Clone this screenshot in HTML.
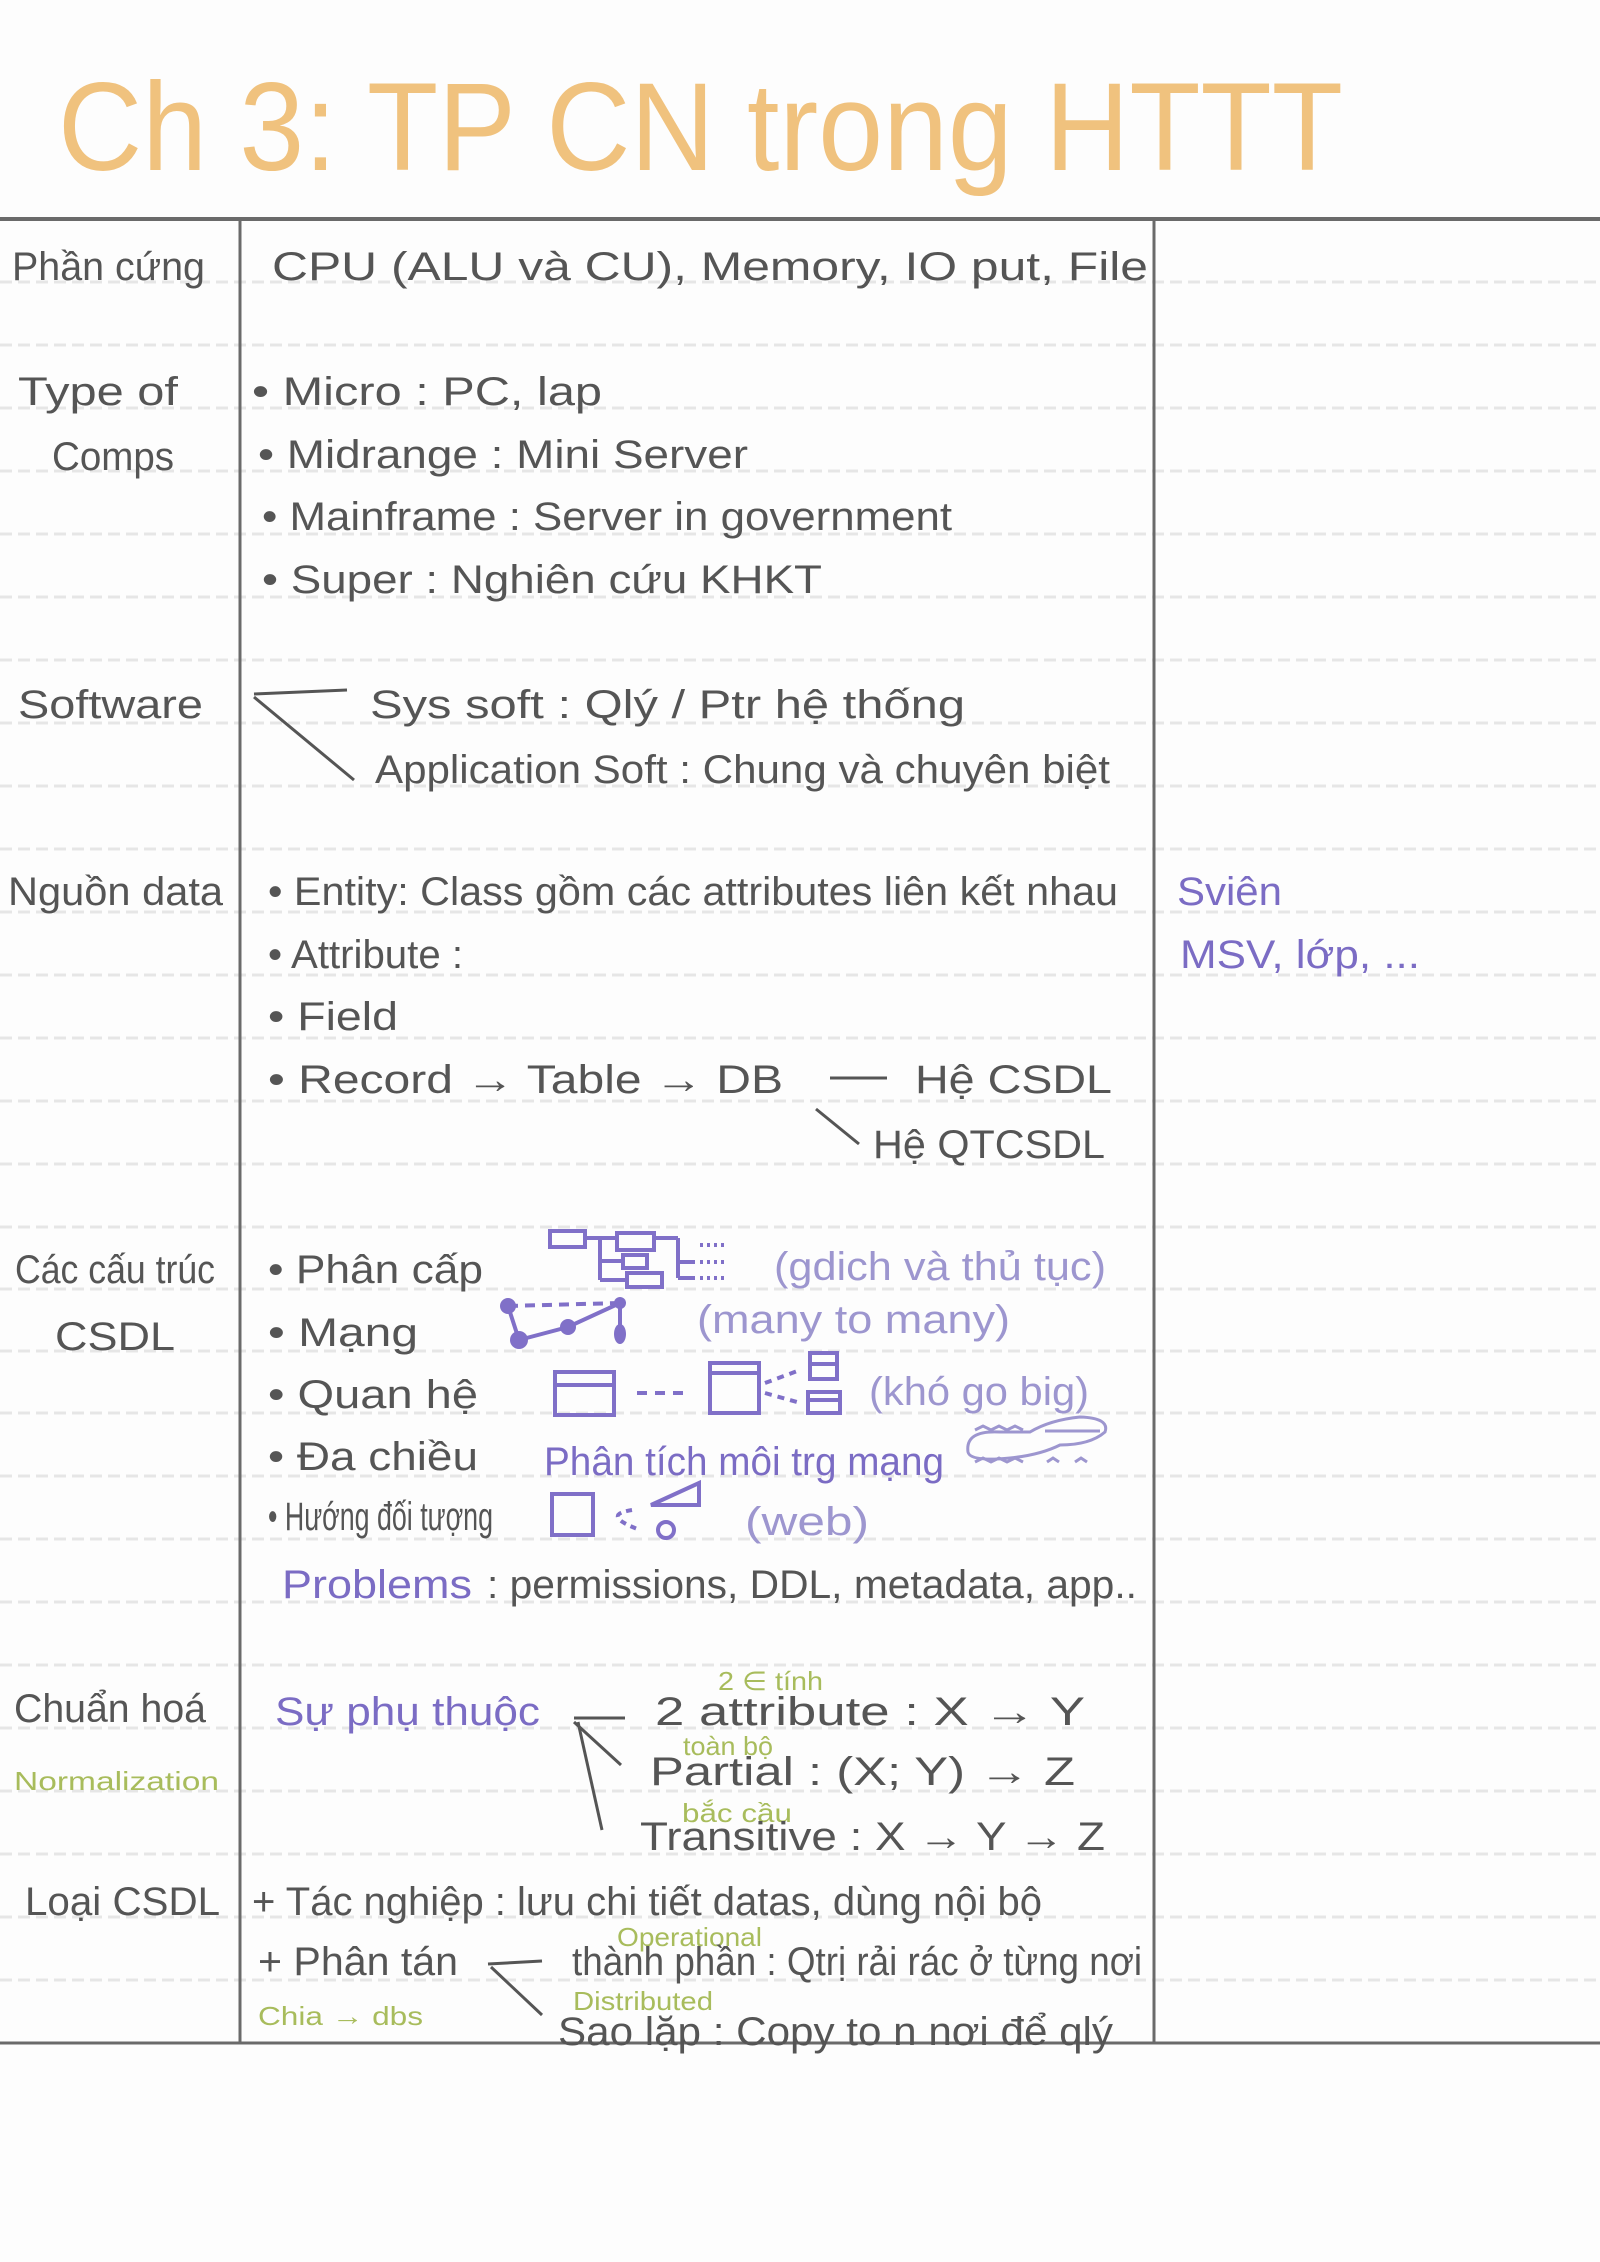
<!DOCTYPE html>
<html><head><meta charset="utf-8"><style>
html,body{margin:0;padding:0;background:#fdfdfd}
svg{display:block}
text{font-family:"Liberation Sans Narrow","Liberation Sans",sans-serif}
.g{fill:#555;font-size:40px}
.p{fill:#7b6cc4;font-size:40px}
.lp{fill:#9d96cf;font-size:40px}
.gr{fill:#a8bc5c;font-size:26px}
</style></head><body>
<svg width="1600" height="2262" viewBox="0 0 1600 2262" xmlns="http://www.w3.org/2000/svg">
<rect width="1600" height="2262" fill="#fdfdfd"/>
<g stroke="#e6e6e6" stroke-width="3" stroke-dasharray="12,6">
<line x1="0" y1="282" x2="1600" y2="282"/><line x1="0" y1="345" x2="1600" y2="345"/>
<line x1="0" y1="408" x2="1600" y2="408"/><line x1="0" y1="471" x2="1600" y2="471"/>
<line x1="0" y1="534" x2="1600" y2="534"/><line x1="0" y1="597" x2="1600" y2="597"/>
<line x1="0" y1="660" x2="1600" y2="660"/><line x1="0" y1="723" x2="1600" y2="723"/>
<line x1="0" y1="786" x2="1600" y2="786"/><line x1="0" y1="849" x2="1600" y2="849"/>
<line x1="0" y1="912" x2="1600" y2="912"/><line x1="0" y1="975" x2="1600" y2="975"/>
<line x1="0" y1="1038" x2="1600" y2="1038"/><line x1="0" y1="1101" x2="1600" y2="1101"/>
<line x1="0" y1="1164" x2="1600" y2="1164"/><line x1="0" y1="1227" x2="1600" y2="1227"/>
<line x1="0" y1="1289" x2="1600" y2="1289"/><line x1="0" y1="1351" x2="1600" y2="1351"/>
<line x1="0" y1="1413" x2="1600" y2="1413"/><line x1="0" y1="1476" x2="1600" y2="1476"/>
<line x1="0" y1="1539" x2="1600" y2="1539"/><line x1="0" y1="1602" x2="1600" y2="1602"/>
<line x1="0" y1="1665" x2="1600" y2="1665"/><line x1="0" y1="1728" x2="1600" y2="1728"/>
<line x1="0" y1="1791" x2="1600" y2="1791"/><line x1="0" y1="1854" x2="1600" y2="1854"/>
<line x1="0" y1="1917" x2="1600" y2="1917"/><line x1="0" y1="1980" x2="1600" y2="1980"/>
</g>
<line x1="0" y1="219" x2="1600" y2="219" stroke="#6a6a6a" stroke-width="4"/>
<line x1="0" y1="2043" x2="1600" y2="2043" stroke="#6a6a6a" stroke-width="3"/>
<line x1="240" y1="219" x2="240" y2="2043" stroke="#6a6a6a" stroke-width="3"/>
<line x1="1154" y1="219" x2="1154" y2="2043" stroke="#6a6a6a" stroke-width="3"/>

<text x="58" y="170" font-size="125" fill="#f0c27e" textLength="1285" lengthAdjust="spacingAndGlyphs">Ch 3: TP CN trong HTTT</text>

<text class="g" x="12" y="280" textLength="193" lengthAdjust="spacingAndGlyphs">Phần cứng</text>
<text class="g" x="272" y="280" textLength="876" lengthAdjust="spacingAndGlyphs">CPU (ALU và CU), Memory, IO put, File</text>

<text class="g" x="18" y="405" textLength="160" lengthAdjust="spacingAndGlyphs">Type of</text>
<text class="g" x="52" y="470" textLength="122" lengthAdjust="spacingAndGlyphs">Comps</text>
<text class="g" x="252" y="405" textLength="350" lengthAdjust="spacingAndGlyphs">• Micro : PC, lap</text>
<text class="g" x="258" y="468" textLength="490" lengthAdjust="spacingAndGlyphs">• Midrange : Mini Server</text>
<text class="g" x="262" y="530" textLength="690" lengthAdjust="spacingAndGlyphs">• Mainframe : Server in government</text>
<text class="g" x="262" y="593" textLength="560" lengthAdjust="spacingAndGlyphs">• Super : Nghiên cứu KHKT</text>

<text class="g" x="18" y="718" textLength="185" lengthAdjust="spacingAndGlyphs">Software</text>
<g stroke="#555" stroke-width="3" fill="none"><line x1="254" y1="694" x2="347" y2="690"/><line x1="254" y1="697" x2="354" y2="780"/></g>
<text class="g" x="370" y="718" textLength="595" lengthAdjust="spacingAndGlyphs">Sys soft : Qlý / Ptr hệ thống</text>
<text class="g" x="375" y="783" textLength="735" lengthAdjust="spacingAndGlyphs">Application Soft : Chung và chuyên biệt</text>

<text class="g" x="8" y="905" textLength="215" lengthAdjust="spacingAndGlyphs">Nguồn data</text>
<text class="g" x="268" y="905" textLength="850" lengthAdjust="spacingAndGlyphs">• Entity: Class gồm các attributes liên kết nhau</text>
<text class="g" x="268" y="968" textLength="195" lengthAdjust="spacingAndGlyphs">• Attribute :</text>
<text class="g" x="268" y="1030" textLength="130" lengthAdjust="spacingAndGlyphs">• Field</text>
<text class="g" x="268" y="1093" textLength="515" lengthAdjust="spacingAndGlyphs">• Record → Table → DB</text>
<g stroke="#555" stroke-width="3"><line x1="830" y1="1078" x2="887" y2="1078"/><line x1="816" y1="1109" x2="859" y2="1144"/></g>
<text class="g" x="915" y="1093" textLength="197" lengthAdjust="spacingAndGlyphs">Hệ CSDL</text>
<text class="g" x="873" y="1158" textLength="232" lengthAdjust="spacingAndGlyphs">Hệ QTCSDL</text>
<text class="p" x="1177" y="905" textLength="105" lengthAdjust="spacingAndGlyphs">Sviên</text>
<text class="p" x="1180" y="968" textLength="240" lengthAdjust="spacingAndGlyphs">MSV, lớp, ...</text>

<text class="g" x="15" y="1283" textLength="200" lengthAdjust="spacingAndGlyphs">Các cấu trúc</text>
<text class="g" x="55" y="1350" textLength="120" lengthAdjust="spacingAndGlyphs">CSDL</text>
<text class="g" x="268" y="1283" textLength="215" lengthAdjust="spacingAndGlyphs">• Phân cấp</text>
<text class="g" x="268" y="1346" textLength="150" lengthAdjust="spacingAndGlyphs">• Mạng</text>
<text class="g" x="268" y="1408" textLength="210" lengthAdjust="spacingAndGlyphs">• Quan hệ</text>
<text class="g" x="268" y="1470" textLength="210" lengthAdjust="spacingAndGlyphs">• Đa chiều</text>
<text class="g" x="268" y="1530" textLength="225" lengthAdjust="spacingAndGlyphs">• Hướng đối tượng</text>

<g stroke="#8070c8" stroke-width="4" fill="none">
<rect x="550" y="1231" width="35" height="16"/><rect x="617" y="1233" width="37" height="17"/>
<rect x="623" y="1255" width="24" height="13"/><rect x="627" y="1273" width="35" height="14"/>
<line x1="585" y1="1238" x2="617" y2="1238"/><line x1="600" y1="1238" x2="600" y2="1280"/>
<line x1="600" y1="1261" x2="623" y2="1261"/><line x1="600" y1="1280" x2="627" y2="1280"/>
<line x1="654" y1="1238" x2="678" y2="1238"/><line x1="678" y1="1238" x2="678" y2="1278"/>
<line x1="678" y1="1262" x2="695" y2="1262"/><line x1="678" y1="1278" x2="695" y2="1278"/>
<line x1="700" y1="1245" x2="724" y2="1245" stroke-dasharray="3,4"/><line x1="700" y1="1262" x2="724" y2="1262" stroke-dasharray="3,4"/><line x1="700" y1="1278" x2="724" y2="1278" stroke-dasharray="3,4"/>
<line x1="508" y1="1306" x2="620" y2="1303" stroke-dasharray="10,7"/>
<polyline points="508,1306 519,1340 568,1327 620,1303 620,1337"/>
<rect x="555" y="1372" width="59" height="43"/><line x1="555" y1="1385" x2="614" y2="1385"/>
<line x1="637" y1="1393" x2="691" y2="1393" stroke-dasharray="10,8"/>
<rect x="710" y="1363" width="49" height="50"/><line x1="710" y1="1373" x2="759" y2="1373"/>
<rect x="810" y="1353" width="27" height="26"/><line x1="810" y1="1364" x2="837" y2="1364"/>
<rect x="808" y="1392" width="32" height="21"/><line x1="808" y1="1400" x2="840" y2="1400"/>
<line x1="765" y1="1383" x2="800" y2="1370" stroke-dasharray="7,6"/><line x1="765" y1="1393" x2="797" y2="1402" stroke-dasharray="7,6"/>
<rect x="552" y="1494" width="41" height="41"/>
<polygon points="651,1505 699,1483 699,1505"/><circle cx="666" cy="1530" r="8"/>
<path d="M632,1510 Q600,1515 640,1530" stroke-dasharray="6,5"/>
</g>
<g fill="#8070c8"><circle cx="508" cy="1306" r="8"/><circle cx="519" cy="1340" r="9"/><circle cx="568" cy="1327" r="8"/><circle cx="620" cy="1303" r="6"/><ellipse cx="620" cy="1334" rx="6" ry="10"/></g>
<text class="lp" x="774" y="1280" textLength="332" lengthAdjust="spacingAndGlyphs">(gdich và thủ tục)</text>
<text class="lp" x="697" y="1333" textLength="313" lengthAdjust="spacingAndGlyphs">(many to many)</text>
<text class="lp" x="869" y="1405" textLength="220" lengthAdjust="spacingAndGlyphs">(khó go big)</text>
<text class="p" x="544" y="1475" textLength="400" lengthAdjust="spacingAndGlyphs">Phân tích môi trg mạng</text>
<g stroke="#9d96cf" stroke-width="3" fill="none">
<path d="M968,1452 Q965,1430 1000,1432 L1030,1432 Q1050,1420 1080,1417 Q1110,1418 1105,1432 Q1090,1445 1060,1445 Q1040,1455 1010,1458 Q970,1462 968,1452Z"/>
<path d="M975,1430 l8,-4 l8,4 l8,-4 l8,4 l8,-4 l8,4"/><path d="M975,1462 l8,-4 l8,4 l8,-4 l8,4 l8,-4 l8,4"/>
<line x1="1045" y1="1431" x2="1100" y2="1431"/><path d="M1047,1462 l6,-4 l6,4 M1075,1462 l6,-4 l6,4"/>
</g>
<text class="lp" x="745" y="1535" textLength="124" lengthAdjust="spacingAndGlyphs">(web)</text>
<text class="p" x="282" y="1598" textLength="190" lengthAdjust="spacingAndGlyphs">Problems</text>
<text class="g" x="487" y="1598" textLength="650" lengthAdjust="spacingAndGlyphs" font-size="34">: permissions, DDL, metadata, app..</text>

<text class="g" x="14" y="1722" textLength="192" lengthAdjust="spacingAndGlyphs">Chuẩn hoá</text>
<text class="gr" x="14" y="1790" textLength="205" lengthAdjust="spacingAndGlyphs">Normalization</text>
<text class="p" x="275" y="1725" textLength="265" lengthAdjust="spacingAndGlyphs">Sự phụ thuộc</text>
<g stroke="#555" stroke-width="3"><line x1="574" y1="1718" x2="625" y2="1718"/><line x1="574" y1="1722" x2="621" y2="1765"/><line x1="578" y1="1722" x2="602" y2="1830"/></g>
<text class="gr" x="718" y="1690" textLength="105" lengthAdjust="spacingAndGlyphs">2 ∈ tính</text>
<text class="g" x="655" y="1725" textLength="430" lengthAdjust="spacingAndGlyphs">2 attribute : X → Y</text>
<text class="gr" x="683" y="1755" textLength="90" lengthAdjust="spacingAndGlyphs">toàn bộ</text>
<text class="g" x="650" y="1785" textLength="425" lengthAdjust="spacingAndGlyphs">Partial : (X; Y) → Z</text>
<text class="gr" x="682" y="1822" textLength="110" lengthAdjust="spacingAndGlyphs">bắc cầu</text>
<text class="g" x="640" y="1850" textLength="465" lengthAdjust="spacingAndGlyphs">Transitive : X → Y → Z</text>

<text class="g" x="25" y="1915" textLength="195" lengthAdjust="spacingAndGlyphs">Loại CSDL</text>
<text class="g" x="252" y="1915" textLength="790" lengthAdjust="spacingAndGlyphs">+ Tác nghiệp : lưu chi tiết datas, dùng nội bộ</text>
<text class="g" x="258" y="1975" textLength="200" lengthAdjust="spacingAndGlyphs">+ Phân tán</text>
<g stroke="#555" stroke-width="3"><line x1="488" y1="1964" x2="542" y2="1961"/><line x1="491" y1="1967" x2="542" y2="2015"/></g>
<text class="gr" x="617" y="1946" textLength="145" lengthAdjust="spacingAndGlyphs">Operational</text>
<text class="g" x="572" y="1975" textLength="570" lengthAdjust="spacingAndGlyphs">thành phần : Qtrị rải rác ở từng nơi</text>
<text class="gr" x="573" y="2010" textLength="140" lengthAdjust="spacingAndGlyphs">Distributed</text>
<text class="g" x="558" y="2045" textLength="555" lengthAdjust="spacingAndGlyphs">Sao lặp : Copy to n nơi để qlý</text>
<text class="gr" x="258" y="2025" textLength="165" lengthAdjust="spacingAndGlyphs">Chia → dbs</text>
</svg>
</body></html>
